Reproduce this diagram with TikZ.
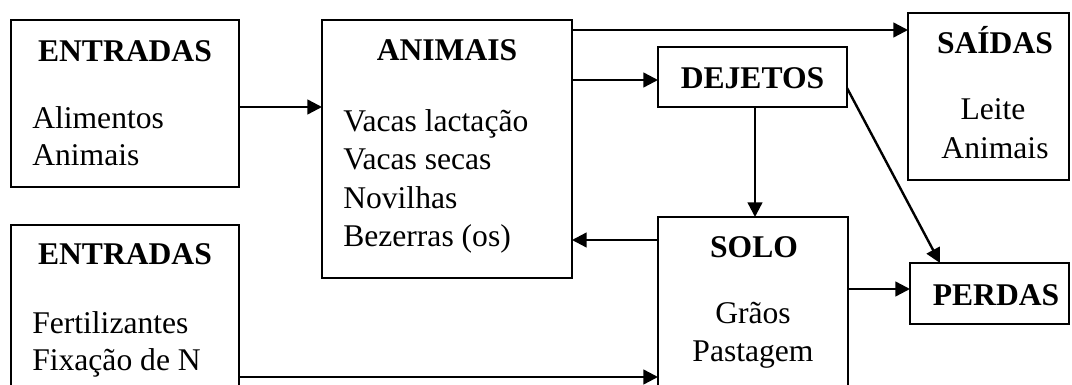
\documentclass[tikz,border=0pt]{standalone}
\usepackage{fontspec}
\setmainfont{Liberation Serif}
\usetikzlibrary{arrows.meta}
\begin{document}
\begin{tikzpicture}[x=0.75pt,y=-0.75pt,
  font=\fontsize{23.7}{28.5}\selectfont,
  box/.style={draw,line width=1.5pt,inner sep=0pt,outer sep=0pt},
  conn/.style={line width=1.8pt,-{Triangle[length=11pt,width=11pt]}},
  ttl/.style={font=\fontsize{23.7}{28.5}\selectfont\bfseries,inner sep=0pt,anchor=base},
  ctr/.style={inner sep=0pt,anchor=base},
  txt/.style={inner sep=0pt,anchor=base west}]
\useasboundingbox (0,0) rectangle (1072,385);
\begin{scope}
\clip (0,0) rectangle (1072,385);
% boxes
\node[box,minimum width=228*0.75pt,minimum height=167*0.75pt] (ent1) at (125,103.5) {};
\node[box,minimum width=250*0.75pt,minimum height=258*0.75pt] (anim) at (447,149) {};
\node[box,minimum width=189*0.75pt,minimum height=60*0.75pt] (dej) at (752.5,77) {};
\node[box,minimum width=161*0.75pt,minimum height=167*0.75pt] (sai) at (988.5,96.5) {};
\node[box,minimum width=228*0.75pt,minimum height=175*0.75pt] (ent2) at (125,312.5) {};
\node[box,minimum width=190*0.75pt,minimum height=183*0.75pt] (solo) at (753,308.5) {};
\node[box,minimum width=159*0.75pt,minimum height=61*0.75pt] (perd) at (989.5,293.5) {};
% texts
\node[ttl] (ent1t) at (125,62) {ENTRADAS};
\node[txt] (ent1a) at (32,128) {Alimentos};
\node[txt] (ent1b) at (32,166) {Animais};
\node[ttl] (animt) at (447,61) {ANIMAIS};
\node[txt] (anima) at (343,132) {Vacas lactação};
\node[txt] (animb) at (343,170) {Vacas secas};
\node[txt] (animc) at (343,208) {Novilhas};
\node[txt] (animd) at (343,246) {Bezerras (os)};
\node[ttl] (dejt) at (752.5,89) {DEJETOS};
\node[ttl] (sait) at (995,54) {SAÍDAS};
\node[ctr] (saia) at (993,120) {Leite};
\node[ctr] (saib) at (995,158) {Animais};
\node[ttl] (ent2t) at (125,264) {ENTRADAS};
\node[txt] (ent2a) at (32,333) {Fertilizantes};
\node[txt] (ent2b) at (32,370) {Fixação de N};
\node[ttl] (solot) at (754,257) {SOLO};
\node[ctr] (soloa) at (753,323) {Grãos};
\node[ctr] (solob) at (753,361) {Pastagem};
\node[ttl] (perdt) at (996,305) {PERDAS};
% connectors
\draw[conn] (ent1.east |- 0,107) -- (anim.west |- 0,107);
\draw[conn] (anim.east |- 0,30) -- (sai.west |- 0,30);
\draw[conn] (anim.east |- 0,80) -- (dej.west |- 0,80);
\draw[conn] (dej.south -| 755,0) -- (solo.north -| 755,0);
\draw[conn] (dej.east |- 0,88) -- (perd.north -| 940,0);
\draw[conn] (solo.west |- 0,240) -- (anim.east |- 0,240);
\draw[conn] (solo.east |- 0,289) -- (perd.west |- 0,289);
\draw[conn] (ent2.east |- 0,377) -- (solo.west |- 0,377);
\end{scope}
\end{tikzpicture}
\end{document}
